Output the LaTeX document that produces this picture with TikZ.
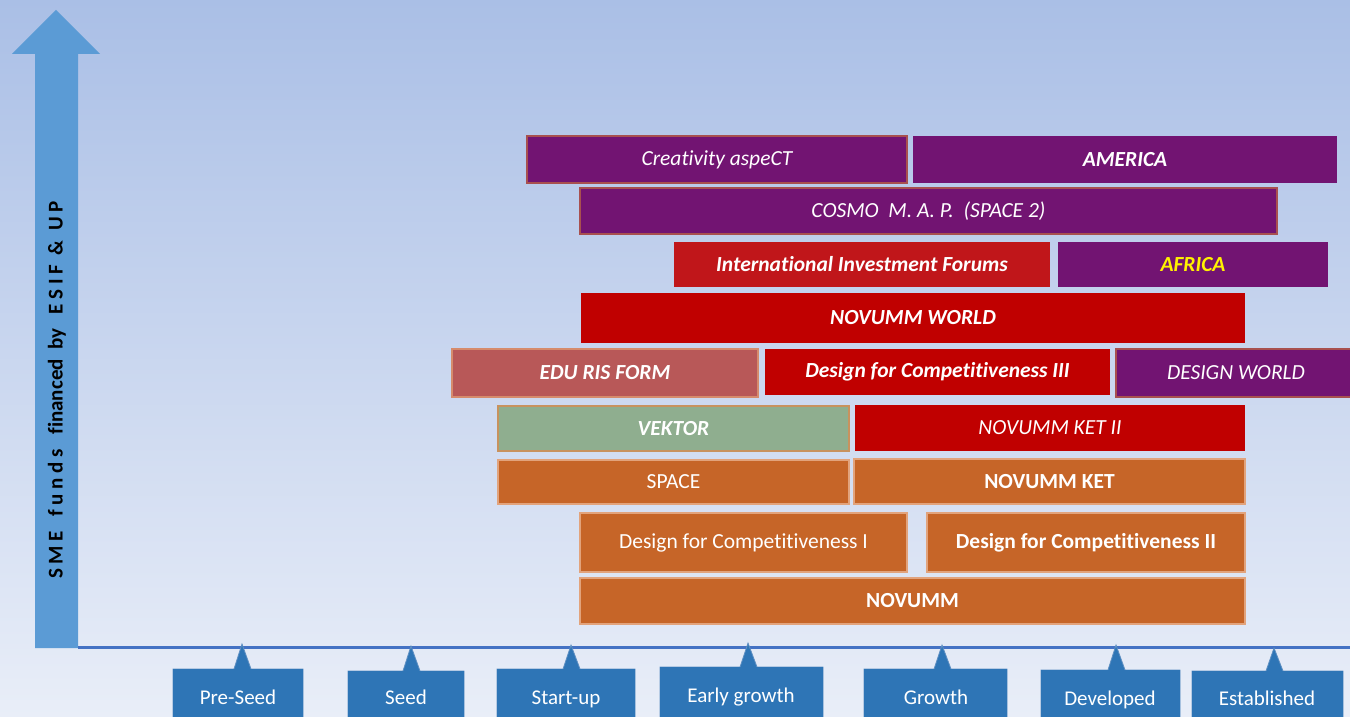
\documentclass[tikz,border=0pt]{standalone}
\usepackage{fontspec}
\setmainfont{Carlito}[Ligatures=NoCommon]
\definecolor{bgtop}{HTML}{AABFE6}
\definecolor{bgbot}{HTML}{E9EEF8}
\definecolor{arrowblue}{HTML}{5B9BD5}
\definecolor{axisblue}{HTML}{4472C4}
\definecolor{callblue}{HTML}{2E75B6}
\definecolor{callbord}{HTML}{5E8FC2}
\definecolor{purp}{HTML}{721472}
\definecolor{purpb}{HTML}{A8504F}
\definecolor{dred}{HTML}{C00000}
\definecolor{ired}{HTML}{C0161A}
\definecolor{orng}{HTML}{C66528}
\definecolor{orngb}{HTML}{E2A37C}
\definecolor{rose}{HTML}{B85858}
\definecolor{roseb}{HTML}{D68B6C}
\definecolor{grn}{HTML}{8FAE8F}
\definecolor{grnb}{HTML}{C8925E}
\tikzset{
  prog/.style={anchor=north west, inner sep=0pt, outer sep=0pt, text=white,
    font=\fontsize{21.5}{24}\selectfont, line width=1.2pt},
  stage/.style={text=white, font=\fontsize{21}{24}\selectfont, anchor=base},
  callout/.style={fill=callblue, draw=callbord, line width=0.8pt},
}
\begin{document}
\begin{tikzpicture}[x=1pt,y=-1pt]
\useasboundingbox (0,0) rectangle (1350,717);
\shade[top color=bgtop, bottom color=bgbot] (0,0) rectangle (1350,717);
% vertical arrow
\fill[arrowblue] (35,648) -- (35,54) -- (12,54) -- (56,10) -- (100,54) -- (78,54) -- (78,648) -- cycle;
\node[rotate=90, font=\bfseries\fontsize{21}{22}\selectfont, text=black, anchor=center] (ylab) at (57,390)
  {S M E\ \ \ f u n d s\ \ \ financed\ \ by\ \ \ E S I F\ \ \&\ \ U P};
% horizontal axis
\draw[axisblue, line width=3.5pt] (78,647.5) -- (1350,647.5);
\coordinate (axisR) at (1350,647.5);
% callouts
\foreach \xa/\xb/\top/\tip/\ty in {173/303/669/242/644, 348/464/671/411/646, 497/635/669/571/645, 660/823/667/748/643, 864/1007/669/942/645, 1041/1180/670/1116/645, 1192/1343/671/1274/648}{
  \draw[callout] (\xa,720) -- (\xa,\top) -- ({\tip-8},\top) -- (\tip,\ty) -- ({\tip+9},\top) -- (\xb,\top) -- (\xb,720);
  \fill[callblue] (\xa+0.4,720) -- (\xa+0.4,\top+0.4) -- (\xb-0.4,\top+0.4) -- (\xb-0.4,720) -- cycle;
}
\node[stage] (s1) at (238,704) {Pre-Seed};
\node[stage] (s2) at (406,704) {Seed};
\node[stage] (s3) at (566,704) {Start-up};
\node[stage] (s4) at (741,702) {Early growth};
\node[stage] (s5) at (936,704) {Growth};
\node[stage] (s6) at (1110,705) {Developed};
\node[stage] (s7) at (1267,705) {Established};
% programme boxes
\node[prog, fill=purp, draw=purpb, minimum width=380pt, minimum height=47pt] (creat) at (527,136) {\itshape Creativity aspeCT};
\node[prog, fill=purp, minimum width=424pt, minimum height=47pt] (amer) at (913,136) {\bfseries\itshape AMERICA};
\node[prog, fill=purp, draw=purpb, minimum width=697pt, minimum height=46pt] (cosmo) at (580,188) {\itshape COSMO\ \ M. A. P.\ \ (SPACE 2)};
\node[prog, fill=ired, minimum width=376pt, minimum height=45pt] (iif) at (674,242) {\bfseries\itshape International Investment Forums};
\node[prog, fill=purp, minimum width=270pt, minimum height=45pt, text=yellow] (afr) at (1058,242) {\bfseries\itshape AFRICA};
\node[prog, fill=dred, minimum width=664pt, minimum height=50pt] (nworld) at (581,293) {\bfseries\itshape NOVUMM WORLD};
\node[prog, fill=rose, draw=roseb, minimum width=306pt, minimum height=48pt] (edu) at (452,349) {\bfseries\itshape EDU RIS FORM};
\node[prog, fill=dred, minimum width=345pt, minimum height=46pt] (dfc3) at (765,349) {\bfseries\itshape Design for Competitiveness III};
\node[prog, fill=purp, draw=purpb, minimum width=240pt, minimum height=48pt] (dworld) at (1116,349) {\itshape DESIGN WORLD};
\node[prog, fill=grn, draw=grnb, minimum width=351pt, minimum height=45pt] (vek) at (498,406) {\bfseries\itshape VEKTOR};
\node[prog, fill=dred, minimum width=390pt, minimum height=46pt] (ket2) at (855,405) {\itshape NOVUMM KET II};
\node[prog, fill=orng, draw=orngb, minimum width=351pt, minimum height=44pt] (space) at (498,460) {SPACE};
\node[prog, fill=orng, draw=orngb, minimum width=391pt, minimum height=45pt] (ket) at (854,459) {\bfseries NOVUMM KET};
\node[prog, fill=orng, draw=orngb, minimum width=327pt, minimum height=59pt] (dfc1) at (580,513) {Design for Competitiveness I};
\node[prog, fill=orng, draw=orngb, minimum width=318pt, minimum height=59pt] (dfc2) at (927,513) {\bfseries Design for Competitiveness II};
\node[prog, fill=orng, draw=orngb, minimum width=665pt, minimum height=46pt] (nov) at (580,578) {\bfseries NOVUMM};
\end{tikzpicture}
\end{document}
